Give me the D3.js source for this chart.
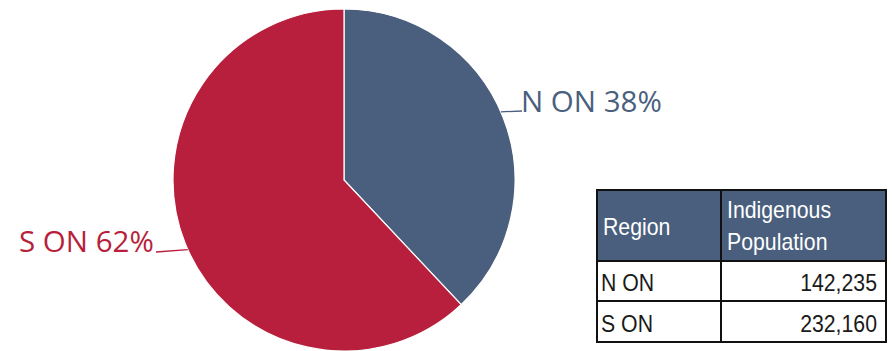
<!DOCTYPE html>
<html>
<head>
<meta charset="utf-8">
<script src="https://cdn.jsdelivr.net/npm/d3@7"></script>
<style>
  html, body { margin: 0; padding: 0; background: #fff; }
  svg { display: block; }
</style>
</head>
<body>
<svg id="chart" width="892" height="351"></svg>
<script>
// Indigenous population by Ontario region
const regions = ["N ON", "S ON"];
const population = [142235, 232160];
const sliceColors = ["#4a5f7d", "#b81f3c"];
const tableHeaders = ["Region", ["Indigenous", "Population"]];

const svg = d3.select("#chart");
const cx = 344, cy = 180, radius = 171;

const total = d3.sum(population);
const rows = regions.map((r, i) => ({ region: r, value: population[i], color: sliceColors[i] }));

const pie = d3.pie().value(d => d.value).sort(null);
const arc = d3.arc().innerRadius(0).outerRadius(radius);
const arcs = pie(rows);

const g = svg.append("g").attr("transform", `translate(${cx},${cy})`);
g.selectAll("path.slice")
  .data(arcs)
  .enter().append("path")
  .attr("class", "slice")
  .attr("d", arc)
  .attr("fill", d => d.data.color)
  .attr("stroke", "#fff")
  .attr("stroke-width", 1.2);

// Outside labels with short leader lines
const labelFont = "'Open Sans', sans-serif";
const labelSpecs = [
  { angle: 66.5, textX: 521, baseline: 112, lineEnd: [522, 111] },
  { angle: 246, textX: 19, baseline: 252, lineEnd: [156, 252] }
];
arcs.forEach((a, i) => {
  const spec = labelSpecs[i];
  const pct = Math.round(a.data.value / total * 100);
  const rad = spec.angle * Math.PI / 180;
  const ex = cx + Math.sin(rad) * radius;
  const ey = cy - Math.cos(rad) * radius;
  svg.append("path")
    .attr("d", d3.line()([[ex, ey], spec.lineEnd]))
    .attr("stroke", a.data.color)
    .attr("stroke-width", 1.3)
    .attr("fill", "none");
  svg.append("text")
    .attr("x", spec.textX)
    .attr("y", spec.baseline)
    .attr("font-family", labelFont)
    .attr("font-size", 29.5)
    .attr("fill", a.data.color)
    .text(`${a.data.region} ${pct}%`);
});

// Data table
const tX0 = 597, tX1 = 721, tX2 = 886;
const tY = [190, 261, 301, 342];
const tableFont = "'Liberation Sans', Arial, sans-serif";
const narrow = 0.925; // condensed look for the table text
const fmt = d3.format(",");
const tg = svg.append("g");

function tableText(x, y, str, fill, anchor) {
  return tg.append("text")
    .attr("transform", `translate(${x},${y}) scale(${narrow},1)`)
    .attr("text-anchor", anchor || "start")
    .attr("font-family", tableFont).attr("font-size", 23)
    .attr("fill", fill)
    .text(str);
}

tg.append("rect")
  .attr("x", tX0).attr("y", tY[0])
  .attr("width", tX2 - tX0).attr("height", tY[1] - tY[0])
  .attr("fill", "#4a5f7d");

tableText(tX0 + 6, 235, tableHeaders[0], "#fff");
tableHeaders[1].forEach((line, i) => tableText(tX1 + 6, 218 + i * 32, line, "#fff"));

const rowBaselines = [291, 332];
rows.forEach((r, i) => {
  tableText(tX0 + 4, rowBaselines[i], r.region, "#1a1a1a");
  tableText(tX2 - 9, rowBaselines[i], fmt(r.value), "#1a1a1a", "end");
});

// Grid lines
const stroke = "#111";
tg.append("rect")
  .attr("x", tX0).attr("y", tY[0])
  .attr("width", tX2 - tX0).attr("height", tY[3] - tY[0])
  .attr("fill", "none").attr("stroke", stroke).attr("stroke-width", 2);
tg.append("line")
  .attr("x1", tX1).attr("x2", tX1).attr("y1", tY[0]).attr("y2", tY[3])
  .attr("stroke", stroke).attr("stroke-width", 2);
[tY[1], tY[2]].forEach(y => {
  tg.append("line")
    .attr("x1", tX0).attr("x2", tX2).attr("y1", y).attr("y2", y)
    .attr("stroke", stroke).attr("stroke-width", 2);
});
</script>
</body>
</html>
